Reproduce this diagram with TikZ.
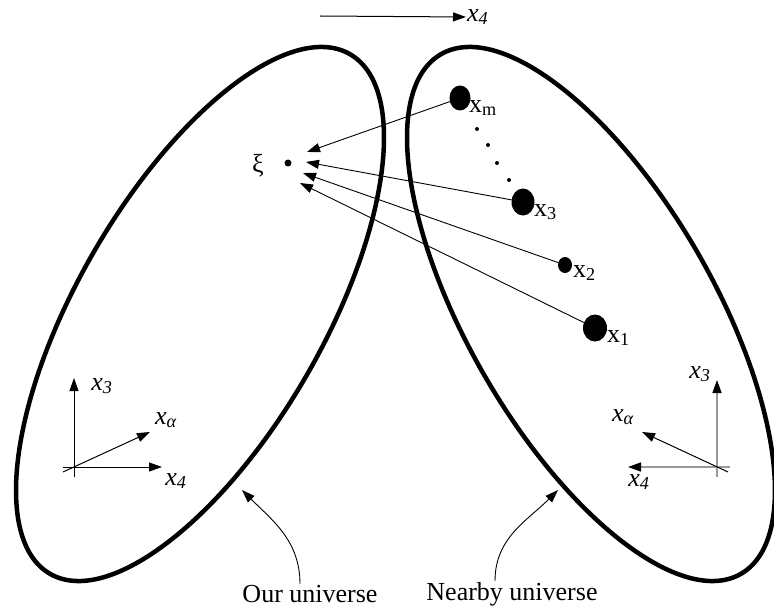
\documentclass[tikz,border=0pt]{standalone}
\usepackage{fontspec}
\setmainfont{Liberation Serif}
\usetikzlibrary{arrows.meta,shapes.geometric}

\newcommand*{\ivar}[1]{\textit{x}\textsubscript{\textit{#1}}}
\newcommand*{\uvar}[1]{x\textsubscript{#1}}

\begin{document}
\begin{tikzpicture}
[
	x=1pt, y=-1pt,
	universe/.style={line width=4.5pt},
	blob/.style={ellipse,fill,inner sep=0pt},
	tinydot/.style={circle,fill,inner sep=0pt,minimum size=4pt},
	pull/.style={-{Triangle[length=13pt,width=9pt]},line width=0.9pt},
	axis/.style={-{Triangle[length=13pt,width=9pt]},line width=1pt},
	grayaxis/.style={-{Triangle[length=13pt,width=9pt,color=black]},line width=1.5pt,gray!80},
	lbl/.style={font=\fontsize{26}{30}\selectfont,inner sep=1pt},
]
	\useasboundingbox (0,0) rectangle (774,607);

	% the two universes
	\draw[universe] (200,314) ellipse [x radius=300, y radius=123, rotate=60];
	\draw[universe] (591,314) ellipse [x radius=300, y radius=123, rotate=-60];

	% top direction
	\coordinate (topstart) at (320,16);
	\node[lbl,anchor=west] (top4) at (466,17) {\ivar{4}};
	\draw[axis] (topstart) -- (top4.west);

	% point in our universe
	\node[circle,fill,inner sep=0pt,minimum size=7pt] (xi) at (288,163) {};
	\node[lbl] (xilbl) at (258,166) {ξ};

	% points in the nearby universe
	\node[blob,minimum width=21pt,minimum height=25pt] (xm) at (460,98) {};
	\node[blob,minimum width=23pt,minimum height=27pt] (x3) at (523,202) {};
	\node[blob,minimum width=14pt,minimum height=16pt] (x2) at (565,265) {};
	\node[blob,minimum width=24pt,minimum height=27pt] (x1) at (595,328) {};

	\node[lbl,anchor=west] at (468,108) {\uvar{m}};
	\node[lbl,anchor=west] at (533,212) {\uvar{3}};
	\node[lbl,anchor=west] at (572,273) {\uvar{2}};
	\node[lbl,anchor=west] at (606,338) {\uvar{1}};

	\node[tinydot] (d1) at (477,129) {};
	\node[tinydot] (d2) at (488,145) {};
	\node[tinydot] (d3) at (497,163) {};
	\node[tinydot] (d4) at (509,180) {};

	% arrows towards xi
	\coordinate (tm) at (307,152);
	\coordinate (t3) at (306,162);
	\coordinate (t2) at (303,173);
	\coordinate (t1) at (300,183);
	\draw[pull] (xm) -- (tm);
	\draw[pull] (x3) -- (t3);
	\draw[pull] (x2) -- (t2);
	\draw[pull] (x1) -- (t1);

	% axes, our universe
	\coordinate (la3) at (74,477);
	\coordinate (la4) at (63,467);
	\coordinate (laa) at (63,472);
	\node[lbl] (l3) at (102,386) {\ivar{3}};
	\node[lbl] (la) at (166,420) {\ivar{α}};
	\node[lbl] (l4) at (176,481) {\ivar{4}};
	\draw[axis] (la3) -- (74,378);
	\draw[axis] (la4) -- (162,467);
	\draw[axis] (laa) -- (150,432);

	% axes, nearby universe
	\coordinate (ra3) at (717,477);
	\coordinate (ra4) at (730,467);
	\coordinate (raa) at (728,472);
	\node[lbl] (r3) at (700,374) {\ivar{3}};
	\node[lbl] (ra) at (623,417) {\ivar{α}};
	\node[lbl] (r4) at (639,482) {\ivar{4}};
	\draw[grayaxis] (ra3) -- (717,380);
	\draw[grayaxis] (ra4) -- (628,467);
	\draw[axis] (raa) -- (642,432);

	% names
	\node[lbl] (ours) at (310,594) {Our universe};
	\node[lbl] (nearby) at (512,594) {Nearby universe};
	\coordinate (ourtip) at (242,490);
	\coordinate (neartip) at (558,490);
	\draw[pull] ([xshift=-10pt]ours.north) to[out=90,in=-45] (ourtip);
	\draw[pull] ([xshift=-17pt]nearby.north) to[out=90,in=-135] (neartip);

\end{tikzpicture}
\end{document}
